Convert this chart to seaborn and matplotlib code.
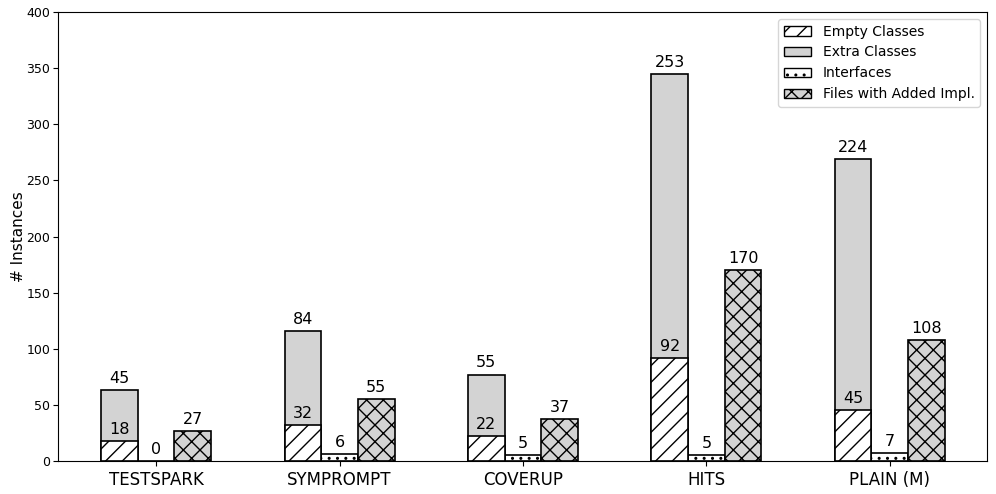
import matplotlib
matplotlib.use("Agg")
import matplotlib.pyplot as plt
from matplotlib.patches import Patch
import seaborn as sns
import pandas as pd

tools = ["TESTSPARK", "SYMPROMPT", "COVERUP", "HITS", "PLAIN (M)"]
empty_classes = [18, 32, 22, 92, 45]
extra_classes = [45, 84, 55, 253, 224]
interfaces = [0, 6, 5, 5, 7]
files_added = [27, 55, 37, 170, 108]

kinds = ["Classes", "Interfaces", "Files"]

rows = []
for i, t in enumerate(tools):
    rows.append({"tool": t, "kind": "Classes", "value": empty_classes[i] + extra_classes[i]})
    rows.append({"tool": t, "kind": "Interfaces", "value": interfaces[i]})
    rows.append({"tool": t, "kind": "Files", "value": files_added[i]})
df_tot = pd.DataFrame(rows)
df_empty = pd.DataFrame({"tool": tools, "kind": ["Classes"] * len(tools), "value": empty_classes})

plt.rcParams["hatch.linewidth"] = 1.0
fig, ax = plt.subplots(figsize=(9.96, 4.94), dpi=100)
fig.subplots_adjust(left=0.0582, right=0.991, top=0.9757, bottom=0.0668)

gray = "#d3d3d3"
sns.barplot(data=df_tot, x="tool", y="value", hue="kind", hue_order=kinds, order=tools,
            width=0.6, dodge=True, ax=ax, legend=False, errorbar=None,
            palette=[gray, "white", gray], edgecolor="black", linewidth=1.2, saturation=1)
n_before = len(ax.containers)
sns.barplot(data=df_empty, x="tool", y="value", hue="kind", hue_order=kinds, order=tools,
            width=0.6, dodge=True, ax=ax, legend=False, errorbar=None,
            palette=["white", "white", "white"], edgecolor="black", linewidth=1.2, saturation=1)

c_classes, c_iface, c_files = ax.containers[0], ax.containers[1], ax.containers[2]
c_empty = ax.containers[n_before]

for p in c_iface:
    p.set_hatch("..")
for p in c_files:
    p.set_hatch("xx")
for p in c_empty:
    p.set_hatch("//")
for c in [c_classes, c_iface, c_files, c_empty]:
    for p in c:
        p.set_edgecolor("black")

fs = 11.5
ax.bar_label(c_classes, labels=[str(v) for v in extra_classes], padding=3, fontsize=fs)
ax.bar_label(c_empty, labels=[str(v) for v in empty_classes], padding=3, fontsize=fs)
ax.bar_label(c_iface, labels=[str(v) for v in interfaces], padding=3, fontsize=fs)
ax.bar_label(c_files, labels=[str(v) for v in files_added], padding=3, fontsize=fs)

ax.set_ylim(0, 400)
ax.set_xlim(-0.535, 4.53)
ax.set_xlabel("")
ax.set_ylabel("# Instances", fontsize=11, labelpad=0)
ax.tick_params(axis="x", labelsize=12)
ax.tick_params(axis="y", labelsize=9, pad=2)

handles = [
    Patch(facecolor="white", edgecolor="black", hatch="//", label="Empty Classes"),
    Patch(facecolor=gray, edgecolor="black", label="Extra Classes"),
    Patch(facecolor="white", edgecolor="black", hatch="..", label="Interfaces"),
    Patch(facecolor=gray, edgecolor="black", hatch="xx", label="Files with Added Impl."),
]
ax.legend(handles=handles, loc="upper right", fontsize=10)

fig.savefig("out.png", dpi=100)
